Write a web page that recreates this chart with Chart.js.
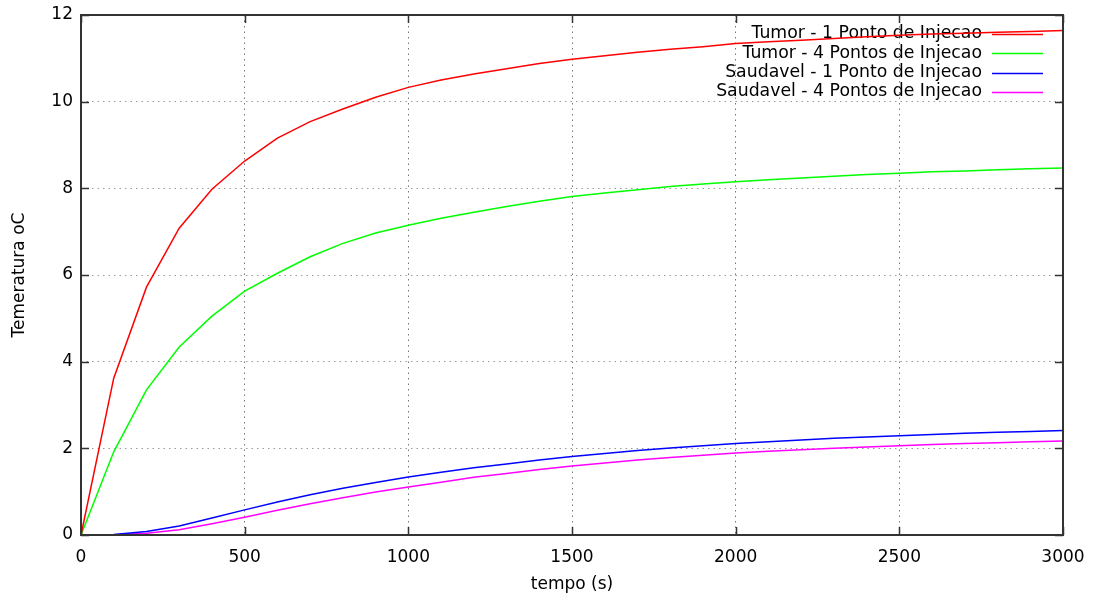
<!DOCTYPE html>
<html>
<head>
<meta charset="utf-8">
<script src="https://cdn.jsdelivr.net/npm/chart.js@4"></script>
<style>
  html, body { margin: 0; padding: 0; background: #fff; }
  #wrap { width: 1094px; height: 599px; }
</style>
</head>
<body>
<div id="wrap"><canvas id="chart" width="1094" height="599"></canvas></div>
<script>
const tempo = [0, 100, 200, 300, 400, 500, 600, 700, 800, 900, 1000, 1100, 1200, 1300, 1400, 1500,
  1600, 1700, 1800, 1900, 2000, 2100, 2200, 2300, 2400, 2500, 2600, 2700, 2800, 2900, 3000];

const tumor1 = [0, 3.62, 5.72, 7.08, 7.98, 8.63, 9.16, 9.54, 9.83, 10.1, 10.33, 10.5, 10.64, 10.76, 10.88, 10.98,
  11.06, 11.14, 11.21, 11.27, 11.34, 11.38, 11.42, 11.46, 11.5, 11.53, 11.56, 11.58, 11.6, 11.62, 11.64];
const tumor4 = [0, 1.92, 3.35, 4.34, 5.05, 5.63, 6.04, 6.42, 6.73, 6.97, 7.15, 7.31, 7.45, 7.58, 7.7, 7.81,
  7.89, 7.97, 8.04, 8.1, 8.15, 8.2, 8.24, 8.28, 8.32, 8.35, 8.38, 8.4, 8.43, 8.45, 8.47];
const saudavel1 = [0, 0.01, 0.08, 0.21, 0.39, 0.58, 0.76, 0.93, 1.08, 1.21, 1.34, 1.45, 1.55, 1.64, 1.73, 1.81,
  1.88, 1.95, 2.01, 2.06, 2.11, 2.15, 2.19, 2.23, 2.26, 2.29, 2.32, 2.35, 2.37, 2.39, 2.41];
const saudavel4 = [0, 0, 0.04, 0.12, 0.26, 0.41, 0.57, 0.72, 0.86, 0.99, 1.11, 1.22, 1.33, 1.42, 1.51, 1.59,
  1.66, 1.73, 1.79, 1.84, 1.89, 1.93, 1.97, 2.0, 2.03, 2.06, 2.09, 2.11, 2.13, 2.15, 2.17];

const seriesLabels = [
  "Tumor - 1 Ponto de Injecao",
  "Tumor - 4 Pontos de Injecao",
  "Saudavel - 1 Ponto de Injecao",
  "Saudavel - 4 Pontos de Injecao",
];
const seriesColors = ["#ff0000", "#00ff00", "#0000ff", "#ff00ff"];
const seriesValues = [tumor1, tumor4, saudavel1, saudavel4];

const FONT = "'DejaVu Sans', sans-serif";

// gnuplot style frame with inward ticks on all four sides
const framePlugin = {
  id: "frame",
  afterDraw(chart) {
    const { ctx, chartArea: a, scales } = chart;
    const tl = 8;
    ctx.save();
    ctx.strokeStyle = "#333";
    ctx.lineWidth = 1.5;
    ctx.beginPath();
    scales.x.ticks.forEach((t) => {
      const px = Math.round(scales.x.getPixelForValue(t.value)) + 0.5;
      ctx.moveTo(px, a.bottom); ctx.lineTo(px, a.bottom - tl);
      ctx.moveTo(px, a.top); ctx.lineTo(px, a.top + tl);
    });
    scales.y.ticks.forEach((t) => {
      const py = Math.round(scales.y.getPixelForValue(t.value)) + 0.5;
      ctx.moveTo(a.left, py); ctx.lineTo(a.left + tl, py);
      ctx.moveTo(a.right, py); ctx.lineTo(a.right - tl, py);
    });
    ctx.stroke();
    ctx.lineWidth = 2;
    ctx.strokeRect(a.left, a.top, a.right - a.left, a.bottom - a.top);
    ctx.restore();
  },
};

// key in the top right corner, text first then the line sample
const keyPlugin = {
  id: "key",
  beforeDatasetsDraw(chart) {
    const { ctx } = chart;
    ctx.save();
    ctx.font = "17.3px " + FONT;
    ctx.textAlign = "right";
    ctx.textBaseline = "middle";
    chart.data.datasets.forEach((ds, i) => {
      const y = 34 + i * 19.3;
      ctx.fillStyle = "#000";
      ctx.fillText(ds.label, 982, y);
      ctx.strokeStyle = ds.borderColor;
      ctx.lineWidth = 1.5;
      ctx.beginPath();
      ctx.moveTo(992, Math.round(y) + 0.5);
      ctx.lineTo(1043, Math.round(y) + 0.5);
      ctx.stroke();
    });
    ctx.restore();
  },
};

new Chart(document.getElementById("chart"), {
  type: "line",
  data: {
    datasets: seriesValues.map((vals, i) => ({
      label: seriesLabels[i],
      data: tempo.map((t, j) => ({ x: t, y: vals[j] })),
      borderColor: seriesColors[i],
      backgroundColor: seriesColors[i],
      borderWidth: 1.5,
      pointRadius: 0,
      tension: 0,
      fill: false,
    })),
  },
  options: {
    responsive: false,
    animation: false,
    layout: { padding: { top: 15, right: 31, left: 0, bottom: 0 } },
    plugins: {
      legend: { display: false },
      tooltip: { enabled: false },
    },
    scales: {
      x: {
        type: "linear",
        min: 0,
        max: 3000,
        ticks: { stepSize: 500, color: "#000", padding: 12, font: { family: FONT, size: 17 }, maxRotation: 0,
          callback: (v) => String(v) },
        grid: { color: "#777", drawTicks: false, lineWidth: 1 },
        border: { display: false, dash: [1.5, 4] },
        title: { display: true, text: "tempo (s)", color: "#000", font: { family: FONT, size: 17 }, padding: { bottom: 4 } },
        afterFit(scale) {
          scale.height = 64;
          scale.paddingLeft = 0;
          scale.paddingRight = 0;
        },
      },
      y: {
        min: 0,
        max: 12,
        ticks: { stepSize: 2, color: "#000", padding: 8, font: { family: FONT, size: 17 }, callback: (v) => String(v) },
        grid: { color: "#999", drawTicks: false, lineWidth: 1 },
        border: { display: false, dash: [1.5, 4] },
        title: { display: true, text: "Temeratura oC", color: "#000", font: { family: FONT, size: 17 }, padding: { top: 9 } },
        afterFit(scale) {
          scale.width = 81;
          scale.paddingTop = 0;
          scale.paddingBottom = 0;
        },
      },
    },
  },
  plugins: [framePlugin, keyPlugin],
});
</script>
</body>
</html>
